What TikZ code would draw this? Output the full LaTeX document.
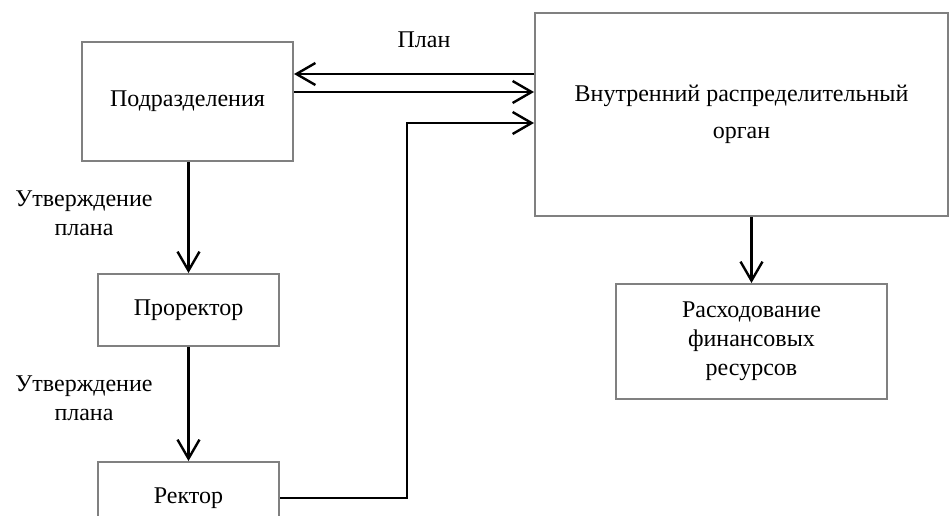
\documentclass[tikz,border=0pt]{standalone}
\usepackage{fontspec}
\setmainfont{Liberation Serif}
\usetikzlibrary{arrows.meta}

\begin{document}
\begin{tikzpicture}[x=1pt, y=-1pt, line join=miter, font=\fontsize{24}{29}\selectfont,
		box/.style={draw=gray, line width=2pt, align=center, inner sep=0pt},
		flow/.style={draw=black, line width=2.4pt, -{Straight Barb[length=19pt, width=22pt, line width=2.4pt]}},
		note/.style={align=center, inner sep=0pt}]
			\useasboundingbox (0,0) rectangle (950,515);
			\begin{scope}
			\clip (0,0) rectangle (950,515);
			
			\node[box, minimum width=211pt, minimum height=119pt] (units) at (187.5,101.5) {Подразделения};
			\node[box, minimum width=181pt, minimum height=72pt] (prorector) at (188.5,310) {Проректор};
			\node[box, minimum width=181pt, minimum height=72pt] (rector) at (188.5,498) {Ректор};
			\node[box, minimum width=413pt, minimum height=203pt, font=\fontsize{24}{37}\selectfont] (organ) at (741.5,114.5) {Внутренний распределительный\\орган};
			\node[box, minimum width=271pt, minimum height=115pt] (spending) at (751.5,341.5) {Расходование\\финансовых\\ресурсов};
			
			\node[note] (plan) at (424,40) {План};
			\node[note] (approve1) at (84,213) {Утверждение\\плана};
			\node[note] (approve2) at (84,398) {Утверждение\\плана};
			
			\draw[flow] (organ.west |- 0,74) -- (units.east |- 0,74);
			\draw[flow] (units.east |- 0,92) -- (organ.west |- 0,92);
			\draw[flow] (rector.east) -| (407,123) -- (organ.west |- 0,123);
			
			\foreach \from/\to in {units/prorector, prorector/rector, organ/spending}
			\draw[flow] (\to.north |- \from.south) -- (\to.north);
			\end{scope}
		\end{tikzpicture}
\end{document}
